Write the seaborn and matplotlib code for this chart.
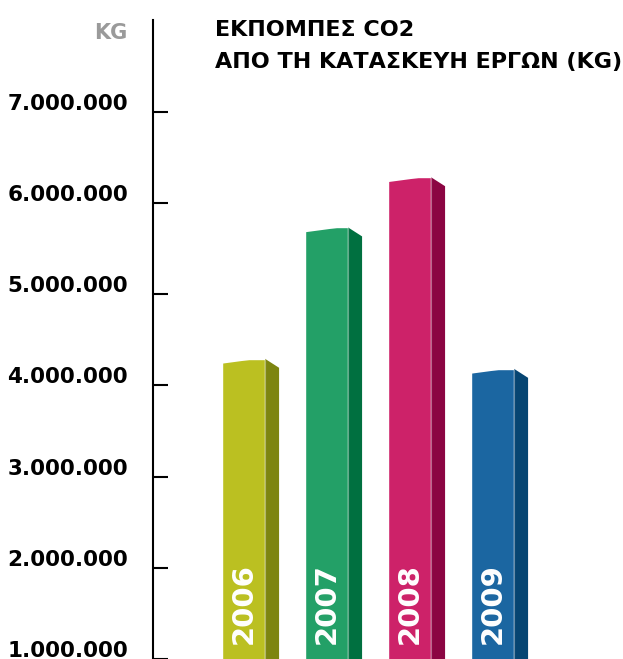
import matplotlib
matplotlib.use("Agg")
import matplotlib.pyplot as plt
import matplotlib.transforms as mtransforms
import pandas as pd
import seaborn as sns

# data
years = ["2006", "2007", "2008", "2009"]
emissions = [4290000, 5730000, 6280000, 4180000]
front_colors = ["#BBC021", "#23A067", "#CD2269", "#1B66A1"]
side_colors = ["#7D8510", "#007040", "#8B0542", "#064572"]
ytick_values = [1000000, 2000000, 3000000, 4000000, 5000000, 6000000, 7000000]

title_lines = ["ΕΚΠΟΜΠΕΣ CO2", "ΑΠΟ ΤΗ ΚΑΤΑΣΚΕΥΗ ΕΡΓΩΝ (KG)"]
unit_label = "KG"

sns.set_style("white")
plt.rcParams["font.family"] = ["DejaVu Sans"]

df = pd.DataFrame({"year": years, "kg": emissions})

W, H = 623, 659
fig = plt.figure(figsize=(W / 100, H / 100), dpi=100)
ax = fig.add_axes([153 / W, 0, 1 - 153 / W, 1])

sns.barplot(data=df, x="year", y="kg", hue="year", palette=front_colors,
            width=0.52, legend=False, saturation=1, ax=ax)

px_per_m = 91.6          # pixels per 1.000.000
unit = 83.0              # pixels between bar centres
depth = 14 / unit        # side face width in x units
drop = 9 / px_per_m * 1e6
slant = 5 / px_per_m * 1e6

for patch, side, year in zip(ax.patches, side_colors, years):
    xl = patch.get_x()
    xr = xl + patch.get_width()
    v = patch.get_height()
    # side face for the 3D look
    ax.fill([xr, xr + depth, xr + depth, xr], [v, v - drop, 0, 0],
            color=side, lw=0, zorder=3)
    ax.plot([xr, xr], [0, v], color="white", alpha=0.35, lw=0.8, zorder=4)
    # slanted top edge of the front face
    ax.fill([xl - 0.01, xr, xl - 0.01], [v + 1e4, v + 1e4, v - slant],
            color="white", lw=0, zorder=4)
    ax.text(xl + patch.get_width() / 2, 1.16e6, year, rotation=90,
            ha="center", va="bottom", color="white", fontsize=21,
            fontweight="bold", zorder=5)

ax.set_xlim((153 - 243.5) / unit, (623 - 243.5) / unit)
ax.set_ylim(2e6 - (H - 570) / px_per_m * 1e6, 7e6 + 112 / px_per_m * 1e6)

for s in ["top", "right", "bottom"]:
    ax.spines[s].set_visible(False)
ax.spines["left"].set_color("black")
ax.spines["left"].set_linewidth(1.5)
ax.spines["left"].set_bounds(0, 8.0e6)

ax.set_xticks([])
ax.set_xlabel("")
ax.set_ylabel("")
ax.set_yticks(ytick_values)
ax.set_yticklabels([f"{v:,}".replace(",", ".") for v in ytick_values],
                   fontsize=15.5, fontweight="bold", color="black")
ax.tick_params(axis="y", direction="in", length=11, width=1.5,
               color="black", labelcolor="black", pad=18, left=True)
offset = mtransforms.ScaledTranslation(0, 10 / 100, fig.dpi_scale_trans)
for lab in ax.get_yticklabels():
    lab.set_transform(lab.get_transform() + offset)
    lab.set_clip_on(False)

fig.text(127 / W, 1 - 33 / H, unit_label, ha="right", va="center",
         fontsize=15, fontweight="bold", color="#9A9A9A")
fig.text(215 / W, 1 - 30 / H, title_lines[0], ha="left", va="center",
         fontsize=16, fontweight="bold", color="black")
fig.text(215 / W, 1 - 62 / H, title_lines[1], ha="left", va="center",
         fontsize=16, fontweight="bold", color="black")

fig.savefig("out.png", dpi=100)
